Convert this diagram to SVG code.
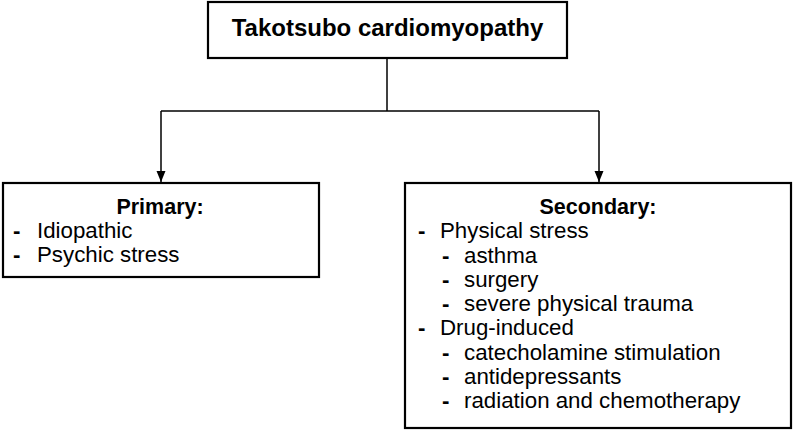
<svg xmlns="http://www.w3.org/2000/svg" width="794" height="430" viewBox="0 0 794 430">
  <style>
    .box { fill: #ffffff; stroke: #000000; stroke-width: 2.2; }
    .conn { fill: none; stroke: #000000; stroke-width: 1.5; }
    text { font-family: "Liberation Sans", Arial, sans-serif; fill: #000000; }
    .title { font-size: 24px; font-weight: bold; text-anchor: middle; }
    .head { font-size: 21.5px; font-weight: bold; text-anchor: middle; }
    .item { font-size: 22.3px; }
    .dash { font-size: 22.3px; font-weight: bold; }
  </style>
  <defs>
    <marker id="arrow" markerWidth="12" markerHeight="12" refX="11" refY="5" orient="auto" markerUnits="userSpaceOnUse">
      <path d="M0,0.5 L11,5 L0,9.5 Z" fill="#000000"/>
    </marker>
  </defs>
  <rect width="794" height="430" fill="#ffffff"/>
  <g id="connectors">
    <path class="conn" d="M387,58 L387,111"/>
    <path class="conn" d="M161,111 L599,111"/>
    <path class="conn" d="M161,111 L161,182" marker-end="url(#arrow)"/>
    <path class="conn" d="M599,111 L599,182" marker-end="url(#arrow)"/>
  </g>
  <g id="root">
    <rect class="box" x="208" y="2" width="359" height="56"/>
    <text class="title" x="387.5" y="36">Takotsubo cardiomyopathy</text>
  </g>
  <g id="primary">
    <rect class="box" x="3" y="183" width="316" height="94"/>
    <text class="head" x="160" y="214">Primary:</text>
    <text class="dash" x="13" y="238">-</text>
    <text class="item" x="37" y="238">Idiopathic</text>
    <text class="dash" x="13" y="262">-</text>
    <text class="item" x="37" y="262">Psychic stress</text>
  </g>
  <g id="secondary">
    <rect class="box" x="405" y="183" width="386" height="245"/>
    <text class="head" x="598" y="214">Secondary:</text>
    <text class="dash" x="418" y="238">-</text>
    <text class="item" x="440" y="238">Physical stress</text>
    <text class="dash" x="442" y="262.5">-</text>
    <text class="item" x="464" y="262.5">asthma</text>
    <text class="dash" x="442" y="286.5">-</text>
    <text class="item" x="464" y="286.5">surgery</text>
    <text class="dash" x="442" y="311">-</text>
    <text class="item" x="464" y="311">severe physical trauma</text>
    <text class="dash" x="418" y="335">-</text>
    <text class="item" x="440" y="335">Drug-induced</text>
    <text class="dash" x="442" y="359.5">-</text>
    <text class="item" x="464" y="359.5">catecholamine stimulation</text>
    <text class="dash" x="442" y="383.5">-</text>
    <text class="item" x="464" y="383.5">antidepressants</text>
    <text class="dash" x="442" y="408">-</text>
    <text class="item" x="464" y="408">radiation and chemotherapy</text>
  </g>
</svg>
